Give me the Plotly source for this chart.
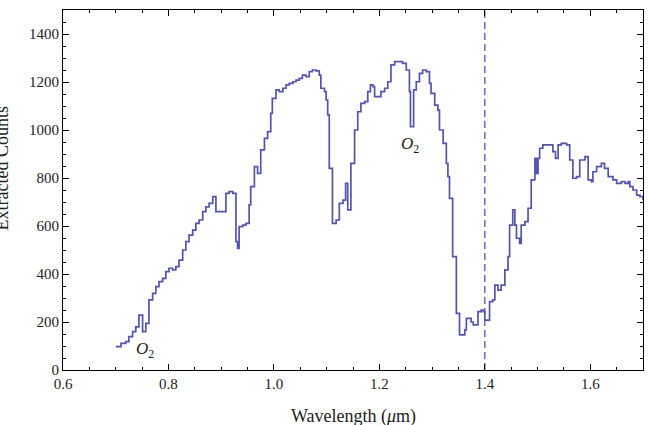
import plotly.graph_objects as go

# Step spectrum: wavelength (µm) at the start of each step, and extracted counts
WAVELENGTH = [
    0.700, 0.710, 0.719, 0.725, 0.732, 0.738, 0.744, 0.751, 0.757, 0.763,
    0.770, 0.776, 0.782, 0.789, 0.795, 0.801, 0.808, 0.814, 0.820, 0.827,
    0.833, 0.839, 0.846, 0.852, 0.858, 0.865, 0.871, 0.877, 0.884, 0.890,
    0.909, 0.915, 0.922, 0.928, 0.931, 0.934, 0.941, 0.947, 0.953, 0.956,
    0.963, 0.969, 0.975, 0.982, 0.988, 0.994, 0.997, 1.004, 1.010, 1.017,
    1.023, 1.029, 1.036, 1.042, 1.048, 1.054, 1.061, 1.067, 1.073, 1.080,
    1.086, 1.089, 1.096, 1.099, 1.102, 1.105, 1.111, 1.118, 1.124, 1.131,
    1.136, 1.140, 1.146, 1.153, 1.159, 1.165, 1.172, 1.178, 1.183, 1.188,
    1.191, 1.203, 1.210, 1.216, 1.222, 1.229, 1.244, 1.251, 1.257, 1.259,
    1.265, 1.270, 1.276, 1.282, 1.289, 1.295, 1.298, 1.305, 1.311, 1.314,
    1.321, 1.327, 1.330, 1.333, 1.339, 1.346, 1.352, 1.362, 1.365, 1.374,
    1.378, 1.387, 1.393, 1.397, 1.400, 1.409, 1.415, 1.419, 1.425, 1.431,
    1.438, 1.444, 1.447, 1.453, 1.457, 1.460, 1.466, 1.469, 1.476, 1.482,
    1.488, 1.495, 1.498, 1.501, 1.504, 1.510, 1.529, 1.534, 1.539, 1.545,
    1.555, 1.561, 1.567, 1.574, 1.580, 1.590, 1.596, 1.602, 1.605, 1.612,
    1.621, 1.627, 1.634, 1.643, 1.650, 1.659, 1.666, 1.672, 1.675, 1.681,
    1.688, 1.694, 1.700,
]
COUNTS = [
    97, 111, 118, 139, 160, 180, 229, 160, 194, 292,
    319, 347, 368, 382, 410, 424, 417, 431, 458, 500,
    535, 562, 583, 611, 625, 660, 680, 694, 722, 660,
    736, 743, 736, 535, 507, 597, 604, 611, 688, 764,
    847, 819, 917, 965, 993, 1069, 1132, 1167, 1160, 1174,
    1188, 1194, 1201, 1208, 1215, 1229, 1222, 1243, 1250, 1246,
    1229, 1174, 1160, 1125, 1063, 840, 611, 625, 694, 708,
    778, 667, 861, 1000, 1076, 1111, 1118, 1160, 1188, 1181,
    1139, 1160, 1174, 1201, 1271, 1285, 1278, 1250, 1160, 1014,
    1167, 1201, 1236, 1250, 1243, 1194, 1153, 1104, 1083, 1000,
    944, 861, 806, 715, 472, 236, 146, 167, 215, 200,
    188, 243, 250, 243, 208, 285, 292, 354, 333, 354,
    417, 472, 604, 667, 604, 549, 528, 604, 618, 674,
    792, 882, 819, 882, 924, 938, 910, 882, 938, 944,
    938, 875, 799, 806, 875, 889, 792, 785, 826, 847,
    861, 840, 806, 792, 778, 785, 778, 785, 764, 750,
    729, 722, 708,
]

MARKER_WAVELENGTH = 1.4
O2_LABELS = [(0.756, 83), (1.259, 937)]

X_RANGE = [0.6, 1.7]
Y_RANGE = [0, 1500]

LINE_COLOR = "rgb(84,84,172)"
SERIF = "Liberation Serif, Times New Roman, serif"
TEXT_COLOR = "#222222"

fig = go.Figure()
fig.add_trace(go.Scatter(
    x=WAVELENGTH, y=COUNTS, mode="lines",
    line=dict(color=LINE_COLOR, width=1.7, shape="hv"),
    showlegend=False, hoverinfo="skip",
))
fig.add_trace(go.Scatter(
    x=[MARKER_WAVELENGTH, MARKER_WAVELENGTH], y=Y_RANGE, mode="lines",
    line=dict(color=LINE_COLOR, width=1.3, dash="7px,4px"),
    showlegend=False, hoverinfo="skip",
))

for (xw, yc) in O2_LABELS:
    fig.add_annotation(
        x=xw, y=yc, xref="x", yref="y", text="<i>O</i><sub>2</sub>",
        showarrow=False, font=dict(family=SERIF, size=17, color=TEXT_COLOR),
    )

axis_common = dict(
    showgrid=False, zeroline=False, showline=True, linecolor="black",
    linewidth=1, mirror="ticks", ticks="inside", ticklen=6, tickwidth=1,
    tickcolor="black", automargin=False,
    tickfont=dict(family=SERIF, size=15, color=TEXT_COLOR),
)

fig.update_xaxes(
    range=X_RANGE, dtick=0.2, tick0=0.6, tickformat=".1f",
    minor=dict(ticks="inside", dtick=0.05, ticklen=3, tickcolor="black", tickwidth=1),
    **axis_common,
)
fig.update_yaxes(
    range=Y_RANGE, dtick=200, tick0=0,
    minor=dict(ticks="inside", dtick=50, ticklen=3, tickcolor="black", tickwidth=1),
    **axis_common,
)

fig.add_annotation(
    text="Wavelength (<i>μ</i>m)", xref="paper", yref="paper",
    x=0.5, y=-0.128, xanchor="center", yanchor="middle", showarrow=False,
    font=dict(family=SERIF, size=18, color=TEXT_COLOR),
)
fig.add_annotation(
    text="Extracted Counts", textangle=-90, xref="paper", yref="paper",
    x=-0.105, y=0.56, xanchor="center", yanchor="middle", showarrow=False,
    font=dict(family=SERIF, size=18, color=TEXT_COLOR),
)

fig.update_layout(
    width=648, height=425,
    margin=dict(l=63, r=5, t=10, b=55),
    plot_bgcolor="white", paper_bgcolor="white",
)

fig.write_html("out.html")
